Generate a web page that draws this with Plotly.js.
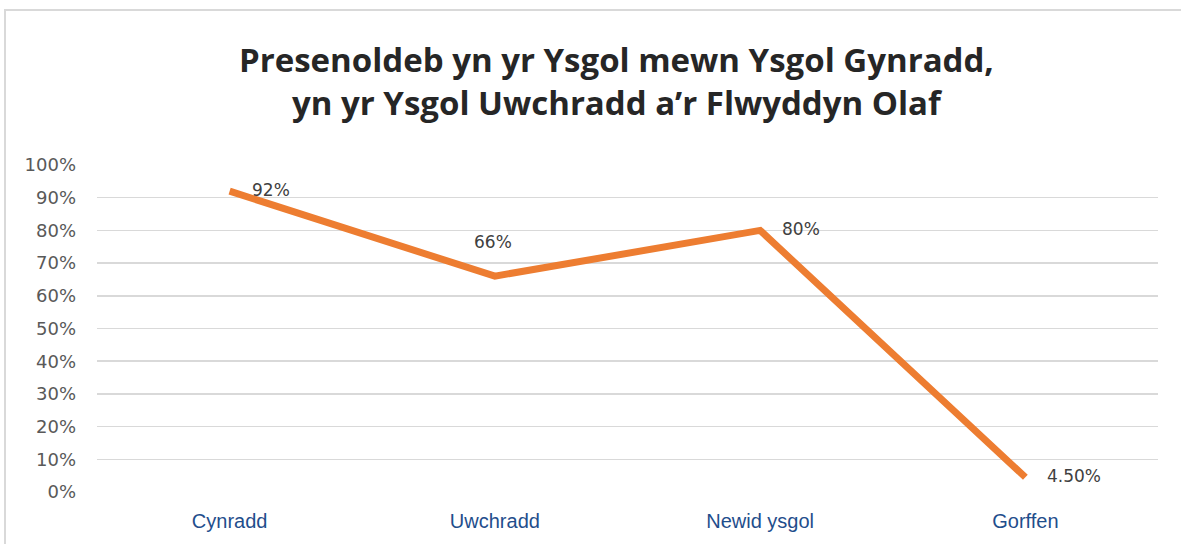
<!DOCTYPE html>
<html>
<head>
<meta charset="utf-8">
<script src="https://cdn.plot.ly/plotly-3.0.1.min.js"></script>
<style>html,body{margin:0;padding:0;background:#fff;}#chart{width:1181px;height:544px;}</style>
</head>
<body>
<div id="chart"></div>
<script>
const categories = ["Cynradd", "Uwchradd", "Newid ysgol", "Gorffen"];
const attendance = [0.92, 0.66, 0.80, 0.045];
const valueLabels = ["92%", "66%", "80%", "4.50%"];
const titleLines = ["Presenoldeb yn yr Ysgol mewn Ysgol Gynradd,", "yn yr Ysgol Uwchradd a’r Flwyddyn Olaf"];
const yTickVals = [0, 0.1, 0.2, 0.3, 0.4, 0.5, 0.6, 0.7, 0.8, 0.9, 1.0];
const yTickText = ["0%", "10%", "20%", "30%", "40%", "50%", "60%", "70%", "80%", "90%", "100%"];

const trace = {
  x: categories,
  y: attendance,
  type: "scatter",
  mode: "lines",
  line: {color: "#ED7D31", width: 7},
  hoverinfo: "skip",
  cliponaxis: false
};

// label placement style: above for the dip, right of the point otherwise
const labelAnnotations = valueLabels.map((t, i) => {
  const above = i === 1;
  return {
    x: categories[i], y: attendance[i], xref: "x", yref: "y",
    text: t, showarrow: false,
    xanchor: above ? "center" : "left",
    yanchor: "middle",
    xshift: above ? -2 : 20,
    yshift: above ? 34 : 1,
    font: {family: "DejaVu Sans, sans-serif", size: 17, color: "#404040"}
  };
});

const titleAnnotation = {
  x: 0.49, y: (492 - 81) / 327,
  xref: "paper", yref: "paper",
  xanchor: "center", yanchor: "middle",
  text: titleLines.map(t => "<b>" + t + "</b>").join("<br>"),
  showarrow: false,
  font: {family: "Open Sans, sans-serif", size: 33, color: "#262626"}
};

const layout = {
  width: 1181,
  height: 544,
  margin: {l: 97, r: 23, t: 165, b: 52},
  paper_bgcolor: "#ffffff",
  plot_bgcolor: "#ffffff",
  showlegend: false,
  xaxis: {
    type: "category",
    range: [-0.5, 3.5],
    showgrid: false,
    zeroline: false,
    showline: false,
    ticks: "",
    tickfont: {family: "Liberation Sans, Arial, sans-serif", size: 20, color: "#1F4E8C"},
    ticklabelstandoff: 15,
    fixedrange: true
  },
  yaxis: {
    range: [0, 1.0],
    tickvals: yTickVals,
    ticktext: yTickText,
    showgrid: true,
    gridcolor: "#d9d9d9",
    gridwidth: 1.5,
    zeroline: false,
    showline: false,
    ticks: "",
    tickfont: {family: "DejaVu Sans, sans-serif", size: 18, color: "#595959"},
    ticklabelstandoff: 20,
    fixedrange: true
  },
  annotations: [titleAnnotation].concat(labelAnnotations),
  shapes: [{
    type: "rect",
    xref: "paper", yref: "paper",
    x0: (5 - 97) / 1061, x1: 1.05,
    y0: -0.3, y1: (492 - 10) / 327,
    line: {color: "#d9d9d9", width: 2},
    fillcolor: "rgba(0,0,0,0)",
    layer: "below"
  }]
};

Plotly.newPlot("chart", [trace], layout, {displayModeBar: false, staticPlot: true});
</script>
</body>
</html>
